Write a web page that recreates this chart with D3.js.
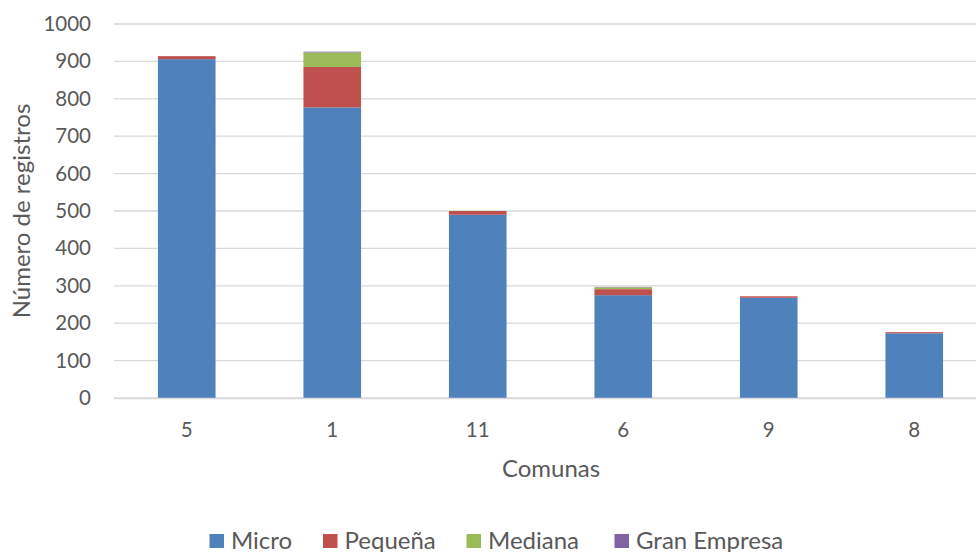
<!DOCTYPE html>
<html><head><meta charset="utf-8">
<script src="https://cdn.jsdelivr.net/npm/d3@7"></script>
<style>body{margin:0;background:#fff}svg{display:block}text{font-family:Lato,"Open Sans",sans-serif;fill:#595959}</style>
</head><body><svg id="c" width="976" height="552"></svg>
<script>
const categories = ["5","1","11","6","9","8"];
const seriesNames = ["Micro","Pequeña","Mediana","Gran Empresa"];
const micro   = [906, 777, 490, 275, 268, 173];
const pequena = [8, 108, 10, 16, 4, 3];
const mediana = [0, 39, 0, 5, 0, 0];
const gran    = [0, 2, 0, 1, 0, 0];
const yTicks = [0,100,200,300,400,500,600,700,800,900,1000];
const colors = ["#4f81bd","#c0504d","#9bbb59","#8064a2"];

(function(){
const svg = d3.select("#c");
const mLeft = 114, mRight = 987, mTop = 24, mBottom = 398;
const x = d3.scaleBand().domain(categories).range([mLeft,mRight]).paddingInner(0.604).paddingOuter(0.302);
const y = d3.scaleLinear().domain([0,1000]).range([mBottom,mTop]);

const rows = categories.map((c,i)=>({cat:c, "Micro":micro[i], "Pequeña":pequena[i], "Mediana":mediana[i], "Gran Empresa":gran[i]}));
const stack = d3.stack().keys(seriesNames)(rows);

svg.append("g").selectAll("line").data(yTicks).join("line")
  .attr("x1",mLeft).attr("x2",mRight).attr("y1",d=>y(d)).attr("y2",d=>y(d))
  .attr("stroke","#d9d9d9").attr("stroke-width",1.3);

const ya = svg.append("g").attr("transform",`translate(${mLeft},0)`)
  .call(d3.axisLeft(y).tickValues(yTicks).tickFormat(d3.format("d")).tickSize(0).tickPadding(23));
ya.select(".domain").remove();
ya.selectAll("text").style("font-family","Lato,sans-serif").style("font-size","20.5px").attr("fill","#595959");

svg.append("g").selectAll("g").data(stack).join("g").attr("fill",(d,i)=>colors[i])
  .selectAll("rect").data(d=>d).join("rect")
  .attr("x",d=>x(d.data.cat)).attr("width",x.bandwidth())
  .attr("y",d=>y(d[1])).attr("height",d=>y(d[0])-y(d[1]));

const xa = svg.append("g").attr("transform",`translate(0,${mBottom})`)
  .call(d3.axisBottom(x).tickSize(0).tickPadding(24));
xa.select(".domain").attr("stroke","#d9d9d9").attr("stroke-width",1.3);
xa.selectAll("text").style("font-family","Lato,sans-serif").style("font-size","20.5px").attr("fill","#595959");

svg.append("text").attr("x",551).attr("y",477).attr("text-anchor","middle").style("font-size","24px").text("Comunas");
svg.append("text").attr("transform","translate(30,211) rotate(-90)").attr("text-anchor","middle").style("font-size","24px").text("Número de registros");

const legX = [209.5, 323, 466.5, 614.5];
const lg = svg.append("g").selectAll("g").data(seriesNames).join("g")
  .attr("transform",(d,i)=>`translate(${legX[i]},534)`);
lg.append("rect").attr("width",14.5).attr("height",14).attr("fill",(d,i)=>colors[i]);
lg.append("text").attr("x",21.5).attr("y",14.5).style("font-size","24px").text(d=>d);
})();
</script></body></html>
